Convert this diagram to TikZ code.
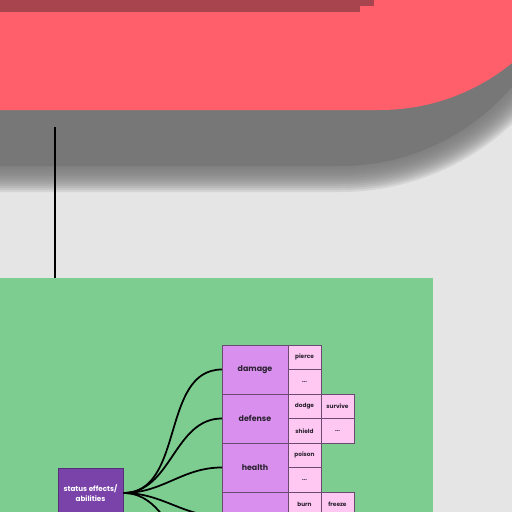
\documentclass[tikz,border=0pt]{standalone}
\usepackage{fontspec}
\setmainfont{Poppins}
\usetikzlibrary{positioning}

\definecolor{bggray}{HTML}{E5E5E5}
\definecolor{shadowgray}{HTML}{777777}
\definecolor{headred}{HTML}{FF5F6B}
\definecolor{headdark}{HTML}{A8444D}
\definecolor{panelgreen}{HTML}{7ECD90}
\definecolor{catpurple}{HTML}{7A43AA}
\definecolor{catlilac}{HTML}{D98FED}
\definecolor{itempink}{HTML}{FFC8F3}
\definecolor{boxline}{HTML}{6A4A70}
\definecolor{inkdark}{HTML}{2A2230}

\tikzset{
  catbox/.style={draw=boxline,line width=0.4pt,fill=catlilac,minimum width=1.32cm,
    minimum height=0.98cm,inner sep=0pt,outer sep=0pt,text=inkdark,
    font=\fontsize{4.5}{5}\selectfont\bfseries},
  itembox/.style={draw=boxline,line width=0.4pt,fill=itempink,minimum width=0.66cm,
    minimum height=0.49cm,inner sep=0pt,outer sep=0pt,text=inkdark,
    font=\fontsize{3.3}{3.8}\selectfont\bfseries},
  link/.style={line width=1pt,black}
}

\begin{document}
\begin{tikzpicture}[x=0.02cm,y=0.02cm]
        \useasboundingbox (0,0) rectangle (512,512);
        \clip (0,0) rectangle (512,512);
        \fill[bggray] (0,0) rectangle (512,512);

        % blurred shadow of the header
        \fill[shadowgray] (-10,346) -- (340,346) arc[start angle=-90,end angle=0,radius=226]
            -- (566,620) -- (-10,620) -- cycle;
        \foreach \e in {-12,-10,...,12}
        {\fill[shadowgray,opacity=0.15] (-10,332-\e) -- (340,332-\e)
            arc[start angle=-90,end angle=0,radius=240+\e] -- (580+\e,620) -- (-10,620) -- cycle;}

        % header
        \fill[headred] (-10,402) -- (380,402) arc[start angle=-90,end angle=0,radius=209]
            -- (589,620) -- (-10,620) -- cycle;
        \fill[headdark] (-1,500) rectangle (360,513);
        \fill[headdark] (359,506) rectangle (374,513);

        \coordinate (top) at (55,385);
        \node[fill=panelgreen,minimum width=8.66cm,minimum height=5cm,inner sep=0pt,
            outer sep=0pt,anchor=north west] (panel) at (0,234) {};
        \draw[line width=0.7pt] (top) -- (panel.north -| top);

        \node[fill=catpurple,draw=catpurple!70!black,line width=0.4pt,minimum width=1.3cm,
            minimum height=1.0cm,inner sep=0pt,text=white,align=center,
            font=\fontsize{4.1}{5.8}\selectfont\bfseries] (status) at (90.5,19)
            {status effects/\\abilities};

        \begin{scope}[node distance=0pt]
        \node[catbox] (damage) at (255,142.5) {damage};
        \node[catbox,below=of damage] (defense) {defense};
        \node[catbox,below=of defense] (health) {health};
        \node[catbox,below=of health] (element) {};

        \node[itembox,anchor=north west] (pierce) at (damage.north east) {pierce};
        \node[itembox,below=of pierce] (dmgmore) {...};

        \node[itembox,anchor=north west] (dodge) at (defense.north east) {dodge};
        \node[itembox,below=of dodge] (shield) {shield};
        \node[itembox,right=of dodge] (survive) {survive};
        \node[itembox,below=of survive] (defmore) {...};

        \node[itembox,anchor=north west] (poison) at (health.north east) {poison};
        \node[itembox,below=of poison] (hpmore) {...};

        \node[itembox,anchor=north west] (burn) at (element.north east) {burn};
        \node[itembox,right=of burn] (freeze) {freeze};
        \end{scope}

        \coordinate (nextcat) at ([yshift=-0.98cm]element.west);

        \draw[link] (status.east) to[out=0,in=180] (damage.west);
        \draw[link] (status.east) to[out=0,in=180] (defense.west);
        \draw[link] (status.east) to[out=0,in=180] (health.west);
        \draw[link] (status.east) to[out=0,in=180] (element.west);
        \draw[link] (status.east) to[out=0,in=180] (nextcat);
\end{tikzpicture}
\end{document}
